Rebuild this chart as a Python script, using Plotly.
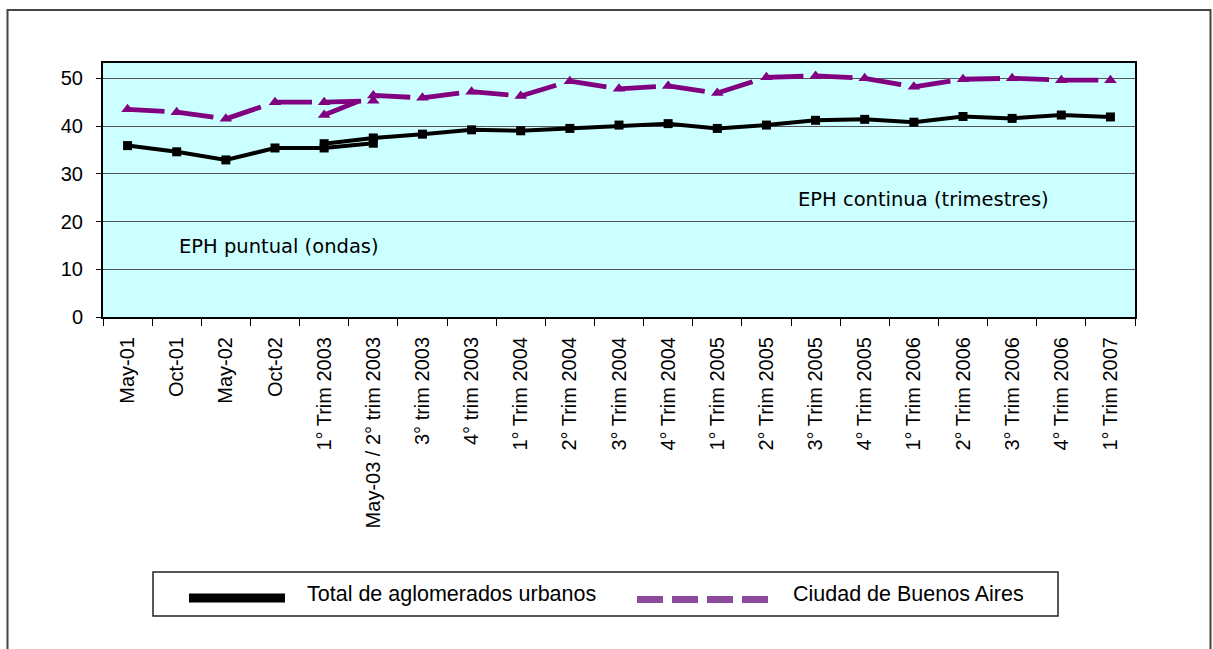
import plotly.graph_objects as go

# ---------------- data ----------------
categories = ["May-01", "Oct-01", "May-02", "Oct-02", "1° Trim 2003",
              "May-03 / 2° trim 2003", "3° trim 2003", "4° trim 2003",
              "1° Trim 2004", "2° Trim 2004", "3° Trim 2004", "4° Trim 2004",
              "1° Trim 2005", "2° Trim 2005", "3° Trim 2005", "4° Trim 2005",
              "1° Trim 2006", "2° Trim 2006", "3° Trim 2006", "4° Trim 2006",
              "1° Trim 2007"]

puntual_cats = categories[0:6]
continua_cats = categories[4:]

total_puntual = [35.9, 34.6, 32.9, 35.4, 35.4, 36.4]
caba_puntual = [43.5, 42.9, 41.5, 45.0, 45.0, 45.3]

total_continua = [36.3, 37.5, 38.3, 39.2, 39.0, 39.5, 40.2, 40.5, 39.5,
                  40.2, 41.2, 41.4, 40.8, 42.0, 41.6, 42.3, 41.9]
caba_continua = [42.3, 46.4, 45.9, 47.2, 46.3, 49.4, 47.8, 48.4, 46.9,
                 50.2, 50.5, 50.0, 48.2, 49.8, 50.0, 49.6, 49.6]

y_ticks = [0, 10, 20, 30, 40, 50]
series_names = ["Total de aglomerados urbanos", "Ciudad de Buenos Aires"]
note_puntual = "EPH puntual (ondas)"
note_continua = "EPH continua (trimestres)"

# ---------------- layout constants ----------------
W, H = 1213, 649
L, R, T, B = 103, 78, 63, 332
PW, PH = W - L - R, H - T - B

def px_x(px):
    return (px - L) / PW

def px_y(py):
    return (T + PH - py) / PH

BLACK = "#000000"
PURPLE = "#800080"
LEG_PURPLE = "#8B4A9C"
FONT = "Liberation Sans, Arial, sans-serif"

fig = go.Figure()

# black lines + markers
for xs, ys in [(puntual_cats, total_puntual), (continua_cats, total_continua)]:
    fig.add_trace(go.Scatter(x=xs, y=ys, mode="lines+markers",
                             line=dict(color=BLACK, width=4),
                             marker=dict(symbol="square", size=9, color=BLACK),
                             showlegend=False, hoverinfo="x+y"))

# purple dashed lines: one dash per segment (pattern restarts at each point)
for xs, ys in [(puntual_cats, caba_puntual), (continua_cats, caba_continua)]:
    for i in range(len(xs) - 1):
        fig.add_trace(go.Scatter(x=xs[i:i + 2], y=ys[i:i + 2], mode="lines",
                                 line=dict(color=PURPLE, width=4.8, dash="37px,40px"),
                                 showlegend=False, hoverinfo="skip"))
    fig.add_trace(go.Scatter(x=xs, y=ys, mode="markers",
                             marker=dict(symbol="triangle-up", size=11, color=PURPLE),
                             showlegend=False, hoverinfo="x+y"))

shapes = []
# outer frame
shapes.append(dict(type="rect", xref="paper", yref="paper",
                   x0=px_x(7.5), x1=px_x(1210.5), y0=px_y(700), y1=px_y(10),
                   line=dict(color="#444444", width=2), fillcolor="rgba(0,0,0,0)",
                   layer="below"))
# legend box
shapes.append(dict(type="rect", xref="paper", yref="paper",
                   x0=px_x(153), x1=px_x(1058), y0=px_y(616), y1=px_y(572),
                   line=dict(color="#222222", width=1.5), fillcolor="white"))
# legend sample black
shapes.append(dict(type="line", xref="paper", yref="paper",
                   x0=px_x(189), x1=px_x(285), y0=px_y(598), y1=px_y(598),
                   line=dict(color=BLACK, width=9)))
# legend sample purple dashes
shapes.append(dict(type="line", xref="paper", yref="paper",
                   x0=px_x(637), x1=px_x(768), y0=px_y(599.5), y1=px_y(599.5),
                   line=dict(color=LEG_PURPLE, width=7, dash="26px,9px")))

annotations = [
    dict(text=series_names[0], xref="paper", yref="paper",
         x=px_x(305), y=px_y(594), xanchor="left", yanchor="middle",
         showarrow=False, font=dict(family=FONT, size=21.5, color="black")),
    dict(text=series_names[1], xref="paper", yref="paper",
         x=px_x(791), y=px_y(594), xanchor="left", yanchor="middle",
         showarrow=False, font=dict(family=FONT, size=21.5, color="black")),
    dict(text=note_continua, xref="paper", yref="paper",
         x=px_x(796), y=px_y(200), xanchor="left", yanchor="middle",
         showarrow=False, font=dict(family="DejaVu Sans, Verdana, sans-serif", size=19.5, color="black")),
    dict(text=note_puntual, xref="paper", yref="paper",
         x=px_x(177), y=px_y(246), xanchor="left", yanchor="middle",
         showarrow=False, font=dict(family="DejaVu Sans, Verdana, sans-serif", size=19.5, color="black")),
]

fig.update_layout(
    width=W, height=H,
    margin=dict(l=L, r=R, t=T, b=B, pad=0),
    paper_bgcolor="white",
    plot_bgcolor="#CCFFFF",
    showlegend=False,
    shapes=shapes,
    annotations=annotations,
    font=dict(family=FONT, size=20, color="black"),
)

fig.update_xaxes(type="category", categoryorder="array", categoryarray=categories,
                 range=[-0.5, len(categories) - 0.5],
                 tickmode="array", tickvals=categories, ticktext=categories,
                 tickangle=-90, tickson="boundaries", ticks="outside", ticklen=7,
                 tickcolor="black", tickwidth=1, ticklabelstandoff=10,
                 showgrid=False, showline=True, linecolor="black", linewidth=2,
                 mirror=True, zeroline=False,
                 tickfont=dict(family=FONT, size=20, color="black"))

fig.update_yaxes(range=[0, 53.2], tickmode="array", tickvals=y_ticks,
                 ticks="outside", ticklen=5, tickcolor="black", tickwidth=1,
                 ticklabelstandoff=9,
                 showgrid=True, gridcolor="#555555", gridwidth=1,
                 showline=True, linecolor="black", linewidth=2, mirror=True,
                 zeroline=False,
                 tickfont=dict(family=FONT, size=20, color="black"))

fig.write_html("out.html",
               config={"displayModeBar": False},
               post_script="document.body.style.margin='0';"
                           "document.body.style.overflow='hidden';")
